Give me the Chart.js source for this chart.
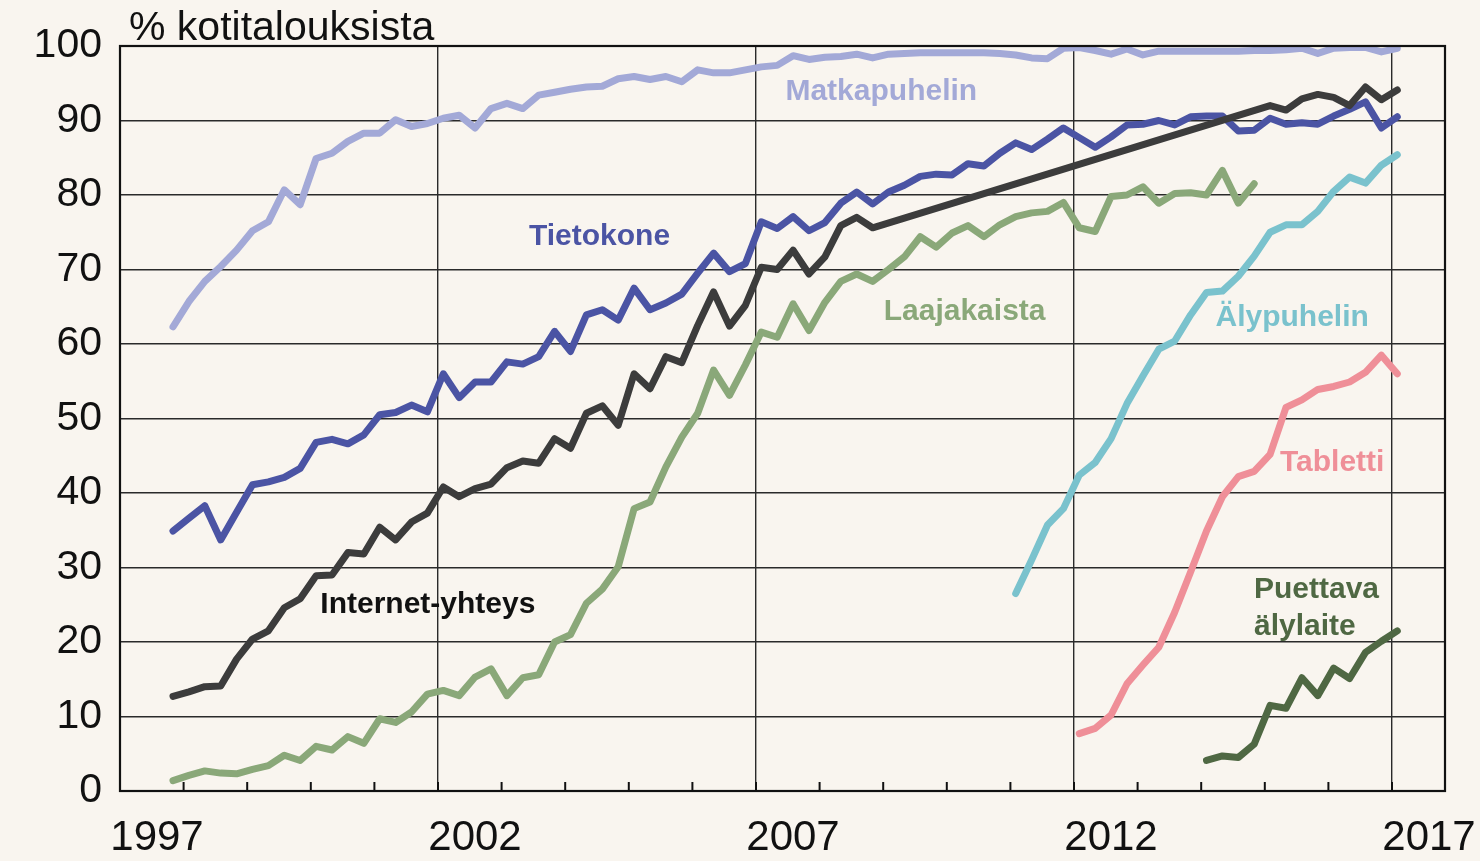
<!DOCTYPE html>
<html lang="fi">
<head>
<meta charset="UTF-8" />
<title>Kotitalouksien laitteet</title>
<script src="https://cdn.jsdelivr.net/npm/chart.js@4.4.1/dist/chart.umd.min.js"></script>
<style>
  html, body { margin: 0; padding: 0; background: #f9f5ef; }
  canvas { display: block; }
</style>
</head>
<body>
<canvas id="myChart" width="1480" height="861"></canvas>
<script>
// survey months (Feb, May, Aug, Nov), Nov 1997 .. Feb 2017
var surveys = [
  "1997-11",
  "1998-02","1998-05","1998-08","1998-11",
  "1999-02","1999-05","1999-08","1999-11",
  "2000-02","2000-05","2000-08","2000-11",
  "2001-02","2001-05","2001-08","2001-11",
  "2002-02","2002-05","2002-08","2002-11",
  "2003-02","2003-05","2003-08","2003-11",
  "2004-02","2004-05","2004-08","2004-11",
  "2005-02","2005-05","2005-08","2005-11",
  "2006-02","2006-05","2006-08","2006-11",
  "2007-02","2007-05","2007-08","2007-11",
  "2008-02","2008-05","2008-08","2008-11",
  "2009-02","2009-05","2009-08","2009-11",
  "2010-02","2010-05","2010-08","2010-11",
  "2011-02","2011-05","2011-08","2011-11",
  "2012-02","2012-05","2012-08","2012-11",
  "2013-02","2013-05","2013-08","2013-11",
  "2014-02","2014-05","2014-08","2014-11",
  "2015-02","2015-05","2015-08","2015-11",
  "2016-02","2016-05","2016-08","2016-11",
  "2017-02"
];

var matkapuhelin = [
  62.3,
  65.7, 68.4, 70.4, 72.6,  75.2, 76.4, 80.7, 78.7,  84.9, 85.6, 87.2, 88.3,
  88.3, 90.1, 89.2, 89.6,  90.3, 90.7, 89.0, 91.6,  92.3, 91.6, 93.4, 93.8,
  94.2, 94.5, 94.6, 95.6,  95.9, 95.5, 95.9, 95.2,  96.8, 96.4, 96.4, 96.8,
  97.2, 97.4, 98.7, 98.2,  98.5, 98.6, 98.9, 98.4,  98.9, 99.0, 99.1, 99.1,
  99.1, 99.1, 99.1, 99.0,  98.8, 98.4, 98.3, 99.7,  99.8, 99.4, 98.9, 99.6,
  98.8, 99.3, 99.3, 99.3,  99.3, 99.3, 99.3, 99.4,  99.4, 99.5, 99.7, 99.0,
  99.7, 99.8, 99.8, 99.2,  99.7
];

var tietokone = [
  34.9,
  36.6, 38.3, 33.7, 37.4,  41.1, 41.5, 42.1, 43.3,  46.8, 47.2, 46.6, 47.8,
  50.5, 50.8, 51.8, 50.9,  56.0, 52.8, 54.9, 54.9,  57.6, 57.3, 58.3, 61.7,
  59.0, 63.9, 64.6, 63.2,  67.5, 64.6, 65.5, 66.7,  69.5, 72.2, 69.7, 70.8,
  76.4, 75.5, 77.1, 75.2,  76.3, 78.9, 80.4, 78.8,  80.4, 81.3, 82.5, 82.8,
  82.7, 84.2, 83.9, 85.6,  87.0, 86.1, 87.5, 89.0,  87.7, 86.4, 87.8, 89.4,
  89.5, 90.0, 89.4, 90.5,  90.6, 90.6, 88.6, 88.7,  90.3, 89.5, 89.7, 89.5,
  90.6, 91.5, 92.5, 89.0,  90.5
];

// no survey data 2009-2014, the line is drawn across the gap
var internet = [
  12.7,
  13.3, 14.0, 14.1, 17.7,  20.4, 21.5, 24.6, 25.8,  28.9, 29.0, 32.0, 31.8,
  35.4, 33.7, 36.1, 37.3,  40.8, 39.5, 40.6, 41.2,  43.4, 44.3, 44.0, 47.3,
  46.0, 50.7, 51.7, 49.1,  56.0, 54.0, 58.3, 57.5,  62.5, 67.0, 62.4, 65.2,
  70.3, 70.0, 72.6, 69.4,  71.7, 75.9, 77.0, 75.6,  null, null, null, null,
  null, null, null, null,  null, null, null, null,  null, null, null, null,
  null, null, null, null,  null, null, null, null,  92.0, 91.4, 92.9, 93.5,
  93.1, 92.0, 94.5, 92.8,  94.1
];

var laajakaista = [
  1.4,
  2.1, 2.7, 2.4, 2.3,      2.9, 3.4, 4.8, 4.1,      6.0, 5.5, 7.3, 6.4,
  9.7, 9.2, 10.6, 13.0,    13.5, 12.8, 15.3, 16.4,  12.8, 15.2, 15.6, 20.0,
  21.0, 25.2, 27.1, 30.1,  37.9, 38.8, 43.5, 47.5,  50.7, 56.5, 53.1, 57.2,
  61.6, 60.9, 65.4, 61.8,  65.6, 68.4, 69.4, 68.4,  70.0, 71.7, 74.4, 73.0,
  74.9, 75.9, 74.4, 76.0,  77.1, 77.6, 77.8, 79.0,  75.6, 75.1, 79.8, 80.0,
  81.1, 78.9, 80.2, 80.3,  80.0, 83.3, 78.9, 81.5,  null, null, null, null,
  null, null, null, null,  null
];

var alypuhelin = [
  null,
  null, null, null, null,  null, null, null, null,  null, null, null, null,
  null, null, null, null,  null, null, null, null,  null, null, null, null,
  null, null, null, null,  null, null, null, null,  null, null, null, null,
  null, null, null, null,  null, null, null, null,  null, null, null, null,
  null, null, null, null,  26.5, 31.0, 35.7, 37.9,  42.4, 44.1, 47.3, 52.0,
  55.7, 59.3, 60.4, 63.9,  66.9, 67.1, 69.1, 71.8,  75.0, 76.0, 76.0, 77.8,
  80.5, 82.4, 81.6, 84.0,  85.4
];

var tabletti = [
  null,
  null, null, null, null,  null, null, null, null,  null, null, null, null,
  null, null, null, null,  null, null, null, null,  null, null, null, null,
  null, null, null, null,  null, null, null, null,  null, null, null, null,
  null, null, null, null,  null, null, null, null,  null, null, null, null,
  null, null, null, null,  null, null, null, null,  7.7, 8.4, 10.2, 14.4,
  16.9, 19.3, 24.0, 29.4,  34.9, 39.5, 42.2, 42.9,  45.2, 51.5, 52.5, 53.9,
  54.3, 54.9, 56.2, 58.5,  56.0
];

var puettava = [
  null,
  null, null, null, null,  null, null, null, null,  null, null, null, null,
  null, null, null, null,  null, null, null, null,  null, null, null, null,
  null, null, null, null,  null, null, null, null,  null, null, null, null,
  null, null, null, null,  null, null, null, null,  null, null, null, null,
  null, null, null, null,  null, null, null, null,  null, null, null, null,
  null, null, null, null,  4.1, 4.7, 4.5, 6.3,      11.5, 11.1, 15.2, 12.8,
  16.5, 15.1, 18.6, 20.1,  21.5
];

var yearTicks = [1997, 1998, 1999, 2000, 2001, 2002, 2003, 2004, 2005, 2006, 2007,
  2008, 2009, 2010, 2011, 2012, 2013, 2014, 2015, 2016, 2017];
var yearLabels = [1997, 2002, 2007, 2012, 2017];

// in-chart series names: [text, x (year), y (%), colour, align]
var seriesNames = [
  ["Matkapuhelin", 2008.97, 93.9, "#a3a9d7", "center"],
  ["Tietokone", 2004.54, 74.4, "#4b54a4", "center"],
  ["Laajakaista", 2010.28, 64.3, "#8aa879", "center"],
  ["Internet-yhteys", 2001.84, 25.0, "#111111", "center"],
  ["Älypuhelin", 2015.43, 63.5, "#7ac2cd", "center"],
  ["Tabletti", 2016.06, 44.1, "#ef8f98", "center"],
  ["Puettava", 2014.83, 27.0, "#4f6843", "left"],
  ["älylaite", 2014.83, 22.1, "#4f6843", "left"]
];

function toYear(s) {
  var p = s.split("-");
  return Number(p[0]) + (Number(p[1]) - 1) / 12;
}

function points(values) {
  return values.map(function (v, i) {
    return { x: toYear(surveys[i]), y: v };
  });
}

var FONT = "'Liberation Sans', Arial, sans-serif";

var decor = {
  id: "decor",
  beforeDraw: function (chart) {
    var c = chart.ctx;
    c.save();
    c.fillStyle = "#f9f5ef";
    c.fillRect(0, 0, chart.width, chart.height);
    c.restore();
  },
  afterDraw: function (chart) {
    var c = chart.ctx;
    var a = chart.chartArea;
    var xs = chart.scales.x;
    var ys = chart.scales.y;
    c.save();
    // inside tick marks on the x axis
    c.strokeStyle = "#111";
    c.lineWidth = 2;
    yearTicks.forEach(function (y) {
      var px = xs.getPixelForValue(y);
      c.beginPath();
      c.moveTo(px, a.bottom);
      c.lineTo(px, a.bottom - 9);
      c.stroke();
    });
    // frame
    c.lineWidth = 2.2;
    c.strokeRect(a.left, a.top, a.right - a.left, a.bottom - a.top);
    // unit text
    c.fillStyle = "#111";
    c.font = "41px " + FONT;
    c.textAlign = "left";
    c.textBaseline = "alphabetic";
    c.fillText("% kotitalouksista", a.left + 9, a.top - 6);
    // series names
    c.font = "bold 30px " + FONT;
    c.textBaseline = "middle";
    seriesNames.forEach(function (n) {
      c.fillStyle = n[3];
      c.textAlign = n[4];
      c.fillText(n[0], xs.getPixelForValue(n[1]), ys.getPixelForValue(n[2]));
    });
    c.restore();
  }
};

function line(label, values, color, gaps) {
  return {
    label: label,
    data: points(values),
    borderColor: color,
    backgroundColor: color,
    borderWidth: 7,
    pointRadius: 0,
    tension: 0,
    spanGaps: !!gaps,
    borderJoinStyle: "round",
    borderCapStyle: "round"
  };
}

var ctx = document.getElementById("myChart").getContext("2d");
var chart = new Chart(ctx, {
  type: "line",
  data: {
    datasets: [
      line("Internet-yhteys", internet, "#3c3c3c", true),
      line("Tietokone", tietokone, "#4b54a4"),
      line("Matkapuhelin", matkapuhelin, "#a3a9d7"),
      line("Laajakaista", laajakaista, "#8aa879"),
      line("Älypuhelin", alypuhelin, "#7ac2cd"),
      line("Tabletti", tabletti, "#ef8f98"),
      line("Puettava älylaite", puettava, "#4f6843")
    ]
  },
  options: {
    responsive: false,
    animation: false,
    layout: { padding: { top: 46, right: 35, left: 0, bottom: 0 } },
    plugins: {
      legend: { display: false },
      tooltip: { enabled: false }
    },
    scales: {
      x: {
        type: "linear",
        min: 1997,
        max: 2017 + 10 / 12,
        afterBuildTicks: function (s) {
          s.ticks = yearTicks.map(function (v) { return { value: v }; });
        },
        afterFit: function (s) { s.height = 70; },
        border: { display: false },
        grid: {
          drawTicks: false,
          lineWidth: 1.4,
          color: function (c) {
            var v = c.tick && c.tick.value;
            return (v - 1997) % 5 === 0 && v !== 1997 ? "#2a2a2a" : "rgba(0,0,0,0)";
          }
        },
        ticks: {
          autoSkip: false,
          maxRotation: 0,
          padding: 22,
          labelOffset: 37,
          color: "#111",
          font: { family: FONT, size: 42 },
          callback: function (v) {
            return yearLabels.indexOf(v) >= 0 ? String(v) : "";
          }
        }
      },
      y: {
        min: 0,
        max: 100,
        afterFit: function (s) { s.width = 120; },
        border: { display: false },
        grid: { drawTicks: false, color: "#2a2a2a", lineWidth: 1.4 },
        ticks: {
          stepSize: 10,
          padding: 18,
          color: "#111",
          font: { family: FONT, size: 41 }
        }
      }
    }
  },
  plugins: [decor]
});
</script>
</body>
</html>
